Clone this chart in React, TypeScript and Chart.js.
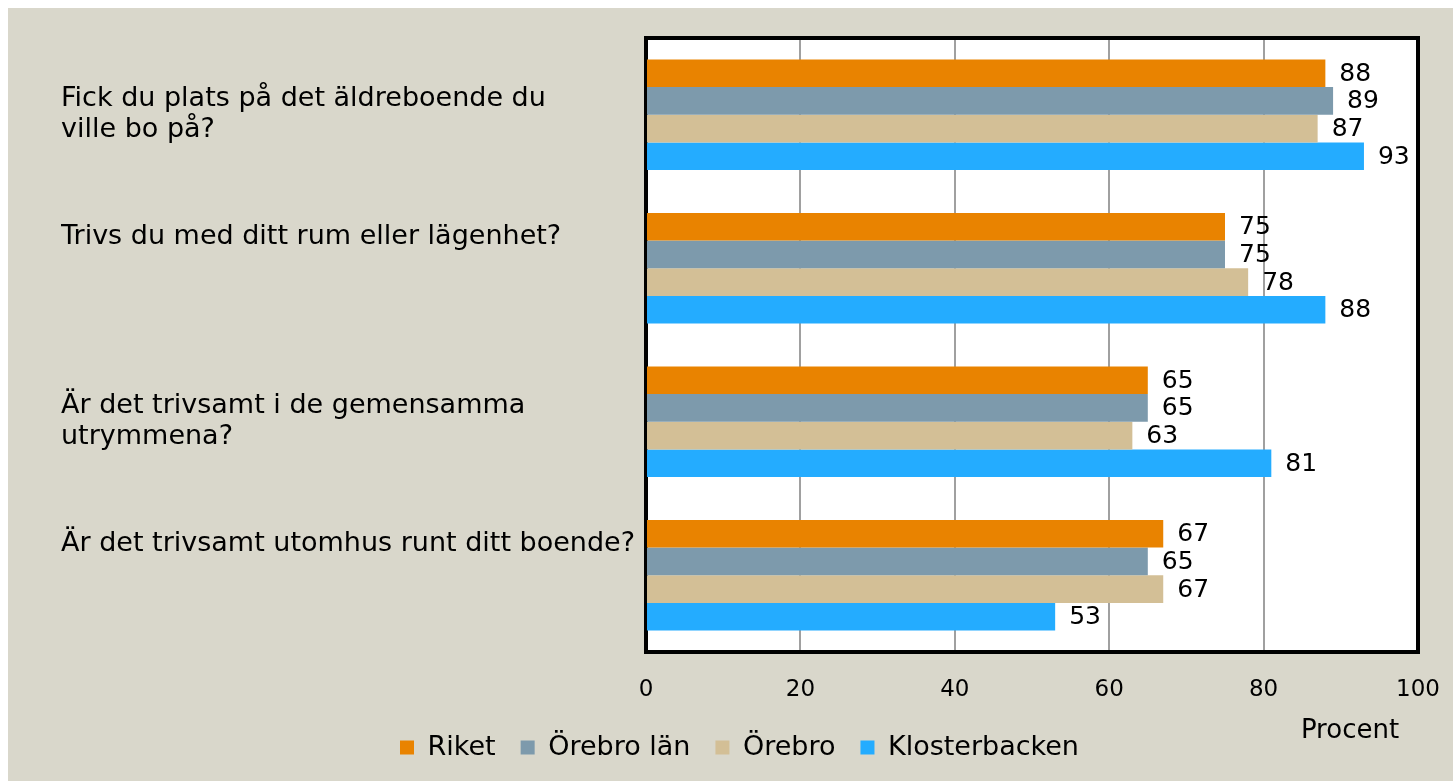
import React, { useEffect, useRef } from "react";
import { Chart, registerables } from "chart.js";

Chart.register(...registerables);

// ---- data ----
const categories: string[][] = [
  ["Fick du plats på det äldreboende du", "ville bo på?"],
  ["Trivs du med ditt rum eller lägenhet?", "", ""],
  ["Är det trivsamt i de gemensamma", "utrymmena?"],
  ["Är det trivsamt utomhus runt ditt boende?", "", ""],
];
const seriesNames = ["Riket", "Örebro län", "Örebro", "Klosterbacken"];
const riket = [88, 75, 65, 67];
const orebroLan = [89, 75, 65, 65];
const orebro = [87, 78, 63, 67];
const klosterbacken = [93, 88, 81, 53];
const xTickValues = [0, 20, 40, 60, 80, 100];
const axisTitle = "Procent";

const seriesColors = ["#E98300", "#7D9AAC", "#D3BF96", "#24ACFF"];
const FONT = "'DejaVu Sans'";

const boxPlugin = {
  id: "plotBox",
  beforeDraw(chart: any) {
    const { ctx, chartArea: a } = chart;
    ctx.save();
    ctx.fillStyle = "#ffffff";
    ctx.fillRect(a.left, a.top, a.right - a.left, a.bottom - a.top);
    ctx.restore();
  },
  beforeDatasetsDraw(chart: any) {
    const { ctx, chartArea: a } = chart;
    ctx.save();
    ctx.strokeStyle = "#000000";
    ctx.lineWidth = 4;
    ctx.strokeRect(a.left, a.top, a.right - a.left, a.bottom - a.top);
    ctx.restore();
  },
  afterDatasetsDraw(chart: any) {
    const { ctx } = chart;
    ctx.save();
    ctx.fillStyle = "#000000";
    ctx.font = `25px ${FONT}`;
    ctx.textAlign = "left";
    ctx.textBaseline = "middle";
    chart.data.datasets.forEach((ds: any, i: number) => {
      const meta = chart.getDatasetMeta(i);
      meta.data.forEach((bar: any, j: number) => {
        ctx.fillText(String(ds.data[j]), bar.x + 14, bar.y + 1);
      });
    });
    ctx.restore();
  },
  afterDraw(chart: any) {
    const { ctx, chartArea: a } = chart;
    ctx.save();
    ctx.fillStyle = "#000000";
    ctx.font = `26px ${FONT}`;
    ctx.textAlign = "center";
    ctx.textBaseline = "middle";
    ctx.fillText(axisTitle, a.right - 68, a.bottom + 79);
    ctx.restore();
  },
};

export default function App() {
  const ref = useRef<HTMLCanvasElement | null>(null);

  useEffect(() => {
    document.body.style.margin = "8px 0 0 8px";
    document.body.style.overflow = "hidden";
    const series = [riket, orebroLan, orebro, klosterbacken];
    const chart = new Chart(ref.current as HTMLCanvasElement, {
      type: "bar",
      data: {
        labels: categories,
        datasets: series.map((d, i) => ({
          label: seriesNames[i],
          data: d,
          backgroundColor: seriesColors[i],
          borderWidth: 0,
          barPercentage: 1,
          categoryPercentage: 0.72,
        })),
      },
      options: {
        indexAxis: "y",
        animation: false,
        responsive: true,
        maintainAspectRatio: false,
        layout: { padding: { top: 30, left: 53, right: 35, bottom: 10 } },
        plugins: {
          tooltip: { enabled: false },
          legend: {
            position: "bottom",
            labels: {
              color: "#000000",
              font: { family: FONT, size: 27 },
              boxWidth: 14,
              boxHeight: 14,
              padding: 25,
            },
          },
        },
        scales: {
          x: {
            min: 0,
            max: 100,
            afterBuildTicks: (scale: any) => {
              scale.ticks = xTickValues.map((v) => ({ value: v }));
            },
            grid: { color: "#A0A0A0", lineWidth: 2, drawTicks: false },
            border: { display: false },
            ticks: {
              color: "#000000",
              font: { family: FONT, size: 23 },
              padding: 24,
            },
            afterFit: (scale: any) => {
              scale.height = 57;
              scale.paddingLeft = 0;
              scale.paddingRight = 0;
            },
          },
          y: {
            grid: { display: false, drawTicks: false },
            border: { display: false },
            ticks: {
              color: "#000000",
              crossAlign: "far",
              padding: 0,
              font: { family: FONT, size: 27, lineHeight: 1.15 },
            },
            afterFit: (scale: any) => {
              scale.width = 585;
              scale.paddingTop = 0;
              scale.paddingBottom = 0;
            },
          },
        },
      },
      plugins: [boxPlugin],
    } as any);
    return () => chart.destroy();
  }, []);

  return (
    <div style={{ width: 1445, height: 773, background: "#D9D7CB", position: "relative" }}>
      <canvas ref={ref} />
    </div>
  );
}
